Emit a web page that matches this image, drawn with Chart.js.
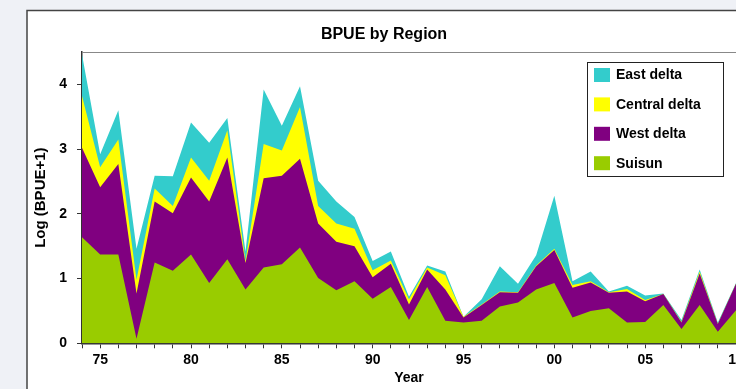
<!DOCTYPE html>
<html><head><meta charset="utf-8">
<script src="https://cdn.jsdelivr.net/npm/chart.js@4"></script>
<style>
html,body{margin:0;padding:0;overflow:hidden;background:#eff1f6;width:736px;height:389px;}
canvas{display:block;}
</style></head><body>
<canvas id="c" width="780" height="389" style="width:780px;height:389px"></canvas>
<script>
// ---- data ----
const years = [1974,1975,1976,1977,1978,1979,1980,1981,1982,1983,1984,1985,1986,1987,1988,1989,1990,1991,1992,1993,1994,1995,1996,1997,1998,1999,2000,2001,2002,2003,2004,2005,2006,2007,2008,2009,2010];
const suisun       = [1.64,1.37,1.37,0.07,1.25,1.12,1.37,0.93,1.30,0.83,1.17,1.22,1.48,1.01,0.82,0.96,0.69,0.87,0.36,0.87,0.35,0.32,0.35,0.57,0.63,0.83,0.93,0.40,0.50,0.54,0.32,0.33,0.59,0.22,0.59,0.18,0.51];
const westDelta    = [1.38,1.04,1.40,0.70,0.94,0.89,1.19,1.26,1.57,0.41,1.38,1.37,1.37,0.84,0.75,0.54,0.33,0.36,0.24,0.27,0.48,0.08,0.24,0.22,0.15,0.36,0.51,0.46,0.44,0.24,0.48,0.32,0.17,0.10,0.49,0.12,0.41];
const centralDelta = [0.80,0.31,0.38,0.21,0.20,0.11,0.31,0.32,0.42,0.03,0.53,0.39,0.80,0.27,0.28,0.27,0.11,0.05,0.08,0.03,0.22,0.01,0.01,0.01,0.01,0.01,0.02,0.04,0.02,0.01,0.04,0.02,0.00,0.01,0.03,0.00,0.00];
const eastDelta    = [0.64,0.20,0.45,0.48,0.20,0.46,0.54,0.59,0.19,0.15,0.84,0.38,0.32,0.39,0.34,0.18,0.14,0.14,0.04,0.03,0.06,0.00,0.08,0.39,0.13,0.16,0.82,0.06,0.15,0.01,0.05,0.07,0.01,0.03,0.03,0.02,0.01];
const seriesNames  = ['Suisun','West delta','Central delta','East delta'];
const seriesColors = ['#99cc00','#800080','#ffff00','#33cccc'];
const yTickValues  = [0,1,2,3,4];
const chartTitle = 'BPUE by Region';
const xTitle = 'Year';
const yTitle = 'Log (BPUE+1)';

Chart.defaults.font.family = "'Liberation Sans', Arial, sans-serif";
Chart.defaults.color = '#000';

const seriesValues = [suisun, westDelta, centralDelta, eastDelta];
const datasets = seriesValues.map((vals, i) => ({
  label: seriesNames[i],
  data: years.map((y, k) => ({x: y, y: vals[k]})),
  backgroundColor: seriesColors[i],
  borderWidth: 0,
  pointRadius: 0,
  fill: 'origin',
  tension: 0
}));

const panelPlugin = {
  id: 'panel',
  beforeDraw(chart) {
    const ctx = chart.ctx;
    ctx.save();
    ctx.fillStyle = '#eff1f6';
    ctx.fillRect(0, 0, chart.width, chart.height);
    ctx.fillStyle = '#ffffff';
    ctx.fillRect(27, 10.5, chart.width, chart.height);
    ctx.strokeStyle = '#444';
    ctx.lineWidth = 1.5;
    ctx.beginPath();
    ctx.moveTo(27, chart.height + 5);
    ctx.lineTo(27, 10.5);
    ctx.lineTo(chart.width + 5, 10.5);
    ctx.stroke();
    ctx.restore();
  },
  afterDraw(chart) {
    const ctx = chart.ctx;
    const a = chart.chartArea;
    ctx.save();
    // top border of plot
    ctx.strokeStyle = '#888';
    ctx.lineWidth = 1;
    ctx.beginPath();
    ctx.moveTo(a.left, a.top + 0.5);
    ctx.lineTo(a.right, a.top + 0.5);
    ctx.stroke();
    // legend
    const bx = 587, by = 62, bw = 136, bh = 114;
    ctx.fillStyle = '#fff';
    ctx.fillRect(bx, by, bw, bh);
    ctx.strokeStyle = '#222';
    ctx.strokeRect(bx + 0.5, by + 0.5, bw, bh);
    ctx.font = "bold 14px 'Liberation Sans', Arial, sans-serif";
    ctx.textBaseline = 'middle';
    ctx.textAlign = 'left';
    const ds = chart.data.datasets.slice().reverse();
    ds.forEach((d, i) => {
      const cy = 75 + i * 29.4;
      ctx.fillStyle = d.backgroundColor;
      ctx.fillRect(594, cy - 7, 16, 14);
      ctx.fillStyle = '#000';
      ctx.fillText(d.label, 616, cy + 0.5);
    });
    ctx.restore();
  }
};

new Chart(document.getElementById('c'), {
  type: 'line',
  data: { datasets },
  plugins: [panelPlugin],
  options: {
    responsive: false,
    animation: false,
    layout: { padding: { left: 32, right: 44, top: 16, bottom: 0 } },
    plugins: {
      legend: { display: false },
      tooltip: { enabled: false },
      title: {
        display: true,
        text: chartTitle,
        color: '#000',
        font: { size: 16, weight: 'bold' },
        padding: { top: 9.4, bottom: 7.4 }
      }
    },
    scales: {
      x: {
        type: 'linear',
        min: years[0],
        max: years[years.length - 1],
        z: 1,
        afterFit(s) { s.height = 45.7; },
        ticks: {
          stepSize: 1,
          autoSkip: false,
          maxRotation: 0,
          padding: 3,
          font: { size: 14, weight: 'bold' },
          color: '#000',
          callback: v => (v % 5 === 0 ? String(v % 100).padStart(2, '0') : '')
        },
        grid: { display: true, drawOnChartArea: false, drawTicks: true, tickLength: 5, color: '#333' },
        border: { display: true, color: '#333', width: 1.5 },
        title: { display: true, text: xTitle, font: { size: 14, weight: 'bold' }, color: '#000', padding: { top: 0, bottom: 2 } }
      },
      y: {
        stacked: true,
        min: 0,
        max: 4.5,
        z: 1,
        afterFit(s) { s.width = 50; },
        afterBuildTicks(s) { s.ticks = yTickValues.map(v => ({ value: v })); },
        ticks: {
          stepSize: 1,
          includeBounds: false,
          padding: 10,
          font: { size: 14, weight: 'bold' },
          color: '#000'
        },
        grid: { display: true, drawOnChartArea: false, drawTicks: true, tickLength: 5, color: '#333' },
        border: { display: true, color: '#333', width: 1.5 },
        title: { display: true, text: yTitle, font: { size: 15, weight: 'bold' }, color: '#000', padding: { top: 0, bottom: 4 } }
      }
    }
  }
});
</script>
</body></html>
